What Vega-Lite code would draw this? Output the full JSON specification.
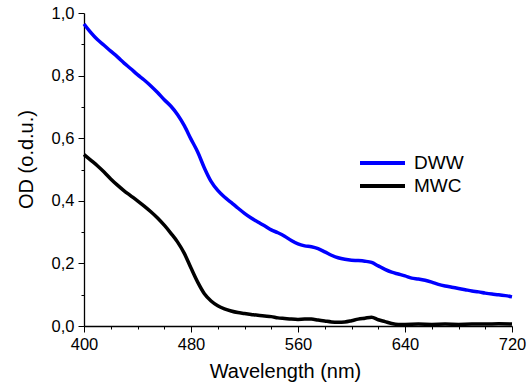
{
  "$schema": "https://vega.github.io/schema/vega-lite/v6.json",
  "autosize": {"type": "none"},
  "padding": {"left": 84, "top": 13, "right": 15, "bottom": 61},
  "width": 428,
  "height": 313,
  "background": "white",
  "config": {
    "view": {"stroke": null},
    "font": "Liberation Sans",
    "axis": {"grid": false, "domainColor": "black", "tickColor": "black", "labelColor": "black", "titleColor": "black", "labelFont": "Liberation Sans", "titleFont": "Liberation Sans", "titleFontWeight": "normal", "domainWidth": 1.3, "tickWidth": 1}
  },
  "datasets": {
    "spectra": [
      {"wl": 400, "od": 0.965, "sample": "DWW"},
      {"wl": 405, "od": 0.938, "sample": "DWW"},
      {"wl": 410, "od": 0.915, "sample": "DWW"},
      {"wl": 415, "od": 0.897, "sample": "DWW"},
      {"wl": 420, "od": 0.878, "sample": "DWW"},
      {"wl": 425, "od": 0.860, "sample": "DWW"},
      {"wl": 430, "od": 0.840, "sample": "DWW"},
      {"wl": 435, "od": 0.822, "sample": "DWW"},
      {"wl": 440, "od": 0.803, "sample": "DWW"},
      {"wl": 445, "od": 0.786, "sample": "DWW"},
      {"wl": 450, "od": 0.767, "sample": "DWW"},
      {"wl": 455, "od": 0.746, "sample": "DWW"},
      {"wl": 460, "od": 0.723, "sample": "DWW"},
      {"wl": 465, "od": 0.702, "sample": "DWW"},
      {"wl": 470, "od": 0.675, "sample": "DWW"},
      {"wl": 475, "od": 0.640, "sample": "DWW"},
      {"wl": 480, "od": 0.597, "sample": "DWW"},
      {"wl": 485, "od": 0.556, "sample": "DWW"},
      {"wl": 490, "od": 0.505, "sample": "DWW"},
      {"wl": 495, "od": 0.462, "sample": "DWW"},
      {"wl": 500, "od": 0.433, "sample": "DWW"},
      {"wl": 505, "od": 0.412, "sample": "DWW"},
      {"wl": 510, "od": 0.395, "sample": "DWW"},
      {"wl": 515, "od": 0.377, "sample": "DWW"},
      {"wl": 520, "od": 0.360, "sample": "DWW"},
      {"wl": 525, "od": 0.345, "sample": "DWW"},
      {"wl": 530, "od": 0.332, "sample": "DWW"},
      {"wl": 535, "od": 0.320, "sample": "DWW"},
      {"wl": 540, "od": 0.307, "sample": "DWW"},
      {"wl": 545, "od": 0.298, "sample": "DWW"},
      {"wl": 550, "od": 0.287, "sample": "DWW"},
      {"wl": 555, "od": 0.273, "sample": "DWW"},
      {"wl": 560, "od": 0.262, "sample": "DWW"},
      {"wl": 565, "od": 0.256, "sample": "DWW"},
      {"wl": 570, "od": 0.253, "sample": "DWW"},
      {"wl": 575, "od": 0.247, "sample": "DWW"},
      {"wl": 580, "od": 0.237, "sample": "DWW"},
      {"wl": 585, "od": 0.226, "sample": "DWW"},
      {"wl": 590, "od": 0.218, "sample": "DWW"},
      {"wl": 595, "od": 0.213, "sample": "DWW"},
      {"wl": 600, "od": 0.210, "sample": "DWW"},
      {"wl": 605, "od": 0.209, "sample": "DWW"},
      {"wl": 610, "od": 0.207, "sample": "DWW"},
      {"wl": 615, "od": 0.203, "sample": "DWW"},
      {"wl": 620, "od": 0.192, "sample": "DWW"},
      {"wl": 625, "od": 0.181, "sample": "DWW"},
      {"wl": 630, "od": 0.172, "sample": "DWW"},
      {"wl": 635, "od": 0.166, "sample": "DWW"},
      {"wl": 640, "od": 0.160, "sample": "DWW"},
      {"wl": 645, "od": 0.153, "sample": "DWW"},
      {"wl": 650, "od": 0.150, "sample": "DWW"},
      {"wl": 655, "od": 0.146, "sample": "DWW"},
      {"wl": 660, "od": 0.140, "sample": "DWW"},
      {"wl": 665, "od": 0.133, "sample": "DWW"},
      {"wl": 670, "od": 0.128, "sample": "DWW"},
      {"wl": 675, "od": 0.124, "sample": "DWW"},
      {"wl": 680, "od": 0.120, "sample": "DWW"},
      {"wl": 685, "od": 0.116, "sample": "DWW"},
      {"wl": 690, "od": 0.112, "sample": "DWW"},
      {"wl": 695, "od": 0.109, "sample": "DWW"},
      {"wl": 700, "od": 0.105, "sample": "DWW"},
      {"wl": 705, "od": 0.102, "sample": "DWW"},
      {"wl": 710, "od": 0.100, "sample": "DWW"},
      {"wl": 715, "od": 0.097, "sample": "DWW"},
      {"wl": 720, "od": 0.093, "sample": "DWW"},
      {"wl": 400, "od": 0.548, "sample": "MWC"},
      {"wl": 405, "od": 0.530, "sample": "MWC"},
      {"wl": 410, "od": 0.512, "sample": "MWC"},
      {"wl": 415, "od": 0.492, "sample": "MWC"},
      {"wl": 420, "od": 0.470, "sample": "MWC"},
      {"wl": 425, "od": 0.450, "sample": "MWC"},
      {"wl": 430, "od": 0.432, "sample": "MWC"},
      {"wl": 435, "od": 0.416, "sample": "MWC"},
      {"wl": 440, "od": 0.400, "sample": "MWC"},
      {"wl": 445, "od": 0.383, "sample": "MWC"},
      {"wl": 450, "od": 0.365, "sample": "MWC"},
      {"wl": 455, "od": 0.345, "sample": "MWC"},
      {"wl": 460, "od": 0.322, "sample": "MWC"},
      {"wl": 465, "od": 0.296, "sample": "MWC"},
      {"wl": 470, "od": 0.268, "sample": "MWC"},
      {"wl": 475, "od": 0.232, "sample": "MWC"},
      {"wl": 480, "od": 0.185, "sample": "MWC"},
      {"wl": 485, "od": 0.140, "sample": "MWC"},
      {"wl": 490, "od": 0.103, "sample": "MWC"},
      {"wl": 495, "od": 0.080, "sample": "MWC"},
      {"wl": 500, "od": 0.065, "sample": "MWC"},
      {"wl": 505, "od": 0.055, "sample": "MWC"},
      {"wl": 510, "od": 0.048, "sample": "MWC"},
      {"wl": 515, "od": 0.043, "sample": "MWC"},
      {"wl": 520, "od": 0.040, "sample": "MWC"},
      {"wl": 525, "od": 0.037, "sample": "MWC"},
      {"wl": 530, "od": 0.034, "sample": "MWC"},
      {"wl": 535, "od": 0.032, "sample": "MWC"},
      {"wl": 540, "od": 0.030, "sample": "MWC"},
      {"wl": 545, "od": 0.026, "sample": "MWC"},
      {"wl": 550, "od": 0.024, "sample": "MWC"},
      {"wl": 555, "od": 0.022, "sample": "MWC"},
      {"wl": 560, "od": 0.021, "sample": "MWC"},
      {"wl": 565, "od": 0.022, "sample": "MWC"},
      {"wl": 570, "od": 0.022, "sample": "MWC"},
      {"wl": 575, "od": 0.019, "sample": "MWC"},
      {"wl": 580, "od": 0.016, "sample": "MWC"},
      {"wl": 585, "od": 0.013, "sample": "MWC"},
      {"wl": 590, "od": 0.012, "sample": "MWC"},
      {"wl": 595, "od": 0.013, "sample": "MWC"},
      {"wl": 600, "od": 0.017, "sample": "MWC"},
      {"wl": 605, "od": 0.022, "sample": "MWC"},
      {"wl": 610, "od": 0.025, "sample": "MWC"},
      {"wl": 615, "od": 0.028, "sample": "MWC"},
      {"wl": 620, "od": 0.020, "sample": "MWC"},
      {"wl": 625, "od": 0.014, "sample": "MWC"},
      {"wl": 630, "od": 0.008, "sample": "MWC"},
      {"wl": 635, "od": 0.005, "sample": "MWC"},
      {"wl": 640, "od": 0.005, "sample": "MWC"},
      {"wl": 650, "od": 0.006, "sample": "MWC"},
      {"wl": 660, "od": 0.005, "sample": "MWC"},
      {"wl": 670, "od": 0.006, "sample": "MWC"},
      {"wl": 680, "od": 0.005, "sample": "MWC"},
      {"wl": 690, "od": 0.006, "sample": "MWC"},
      {"wl": 700, "od": 0.006, "sample": "MWC"},
      {"wl": 710, "od": 0.007, "sample": "MWC"},
      {"wl": 720, "od": 0.006, "sample": "MWC"}
    ]
  },
  "data": {"name": "spectra"},
  "mark": {"type": "line", "strokeWidth": 3.5, "interpolate": "monotone"},
  "encoding": {
    "x": {
      "field": "wl", "type": "quantitative",
      "scale": {"domain": [400, 720], "nice": false, "zero": false},
      "axis": {
        "title": "Wavelength (nm)", "titleFontSize": 20,
        "titleX": 201, "titleY": 51, "titleBaseline": "alphabetic", "titleAlign": "center",
        "values": [400, 420, 440, 460, 480, 500, 520, 540, 560, 580, 600, 620, 640, 660, 680, 700, 720],
        "labelExpr": "datum.value % 80 === 0 ? datum.label : ''",
        "labelFontSize": 16.5, "labelPadding": 4,
        "tickSize": {"condition": {"test": "datum.value % 80 === 0", "value": 6}, "value": 3},
        "labelOverlap": false, "labelFlush": false
      }
    },
    "y": {
      "field": "od", "type": "quantitative",
      "scale": {"domain": [0, 1], "nice": false},
      "axis": {
        "title": "OD (o.d.u.)", "titleFontSize": 20,
        "titleX": -51.5, "titleY": 146, "titleBaseline": "alphabetic", "titleAlign": "center", "titleAngle": -90,
        "values": [0, 0.1, 0.2, 0.3, 0.4, 0.5, 0.6, 0.7, 0.8, 0.9, 1.0],
        "labelExpr": "round(datum.value * 10) % 2 === 0 ? replace(format(datum.value, '.1f'), '.', ',') : ''",
        "labelFontSize": 16.5, "labelPadding": 4,
        "tickSize": {"condition": {"test": "round(datum.value * 10) % 2 === 0", "value": 6}, "value": 3},
        "labelOverlap": false
      }
    },
    "color": {
      "field": "sample", "type": "nominal",
      "scale": {"domain": ["DWW", "MWC"], "range": ["#0000ff", "#000000"]},
      "legend": {
        "title": null, "orient": "none", "legendX": 274, "legendY": 140,
        "symbolType": "stroke", "symbolSize": 2025, "symbolStrokeWidth": 4,
        "labelFontSize": 19, "labelOffset": 7, "labelColor": "black",
        "clipHeight": 20, "rowPadding": 3, "padding": 0
      }
    }
  }
}
